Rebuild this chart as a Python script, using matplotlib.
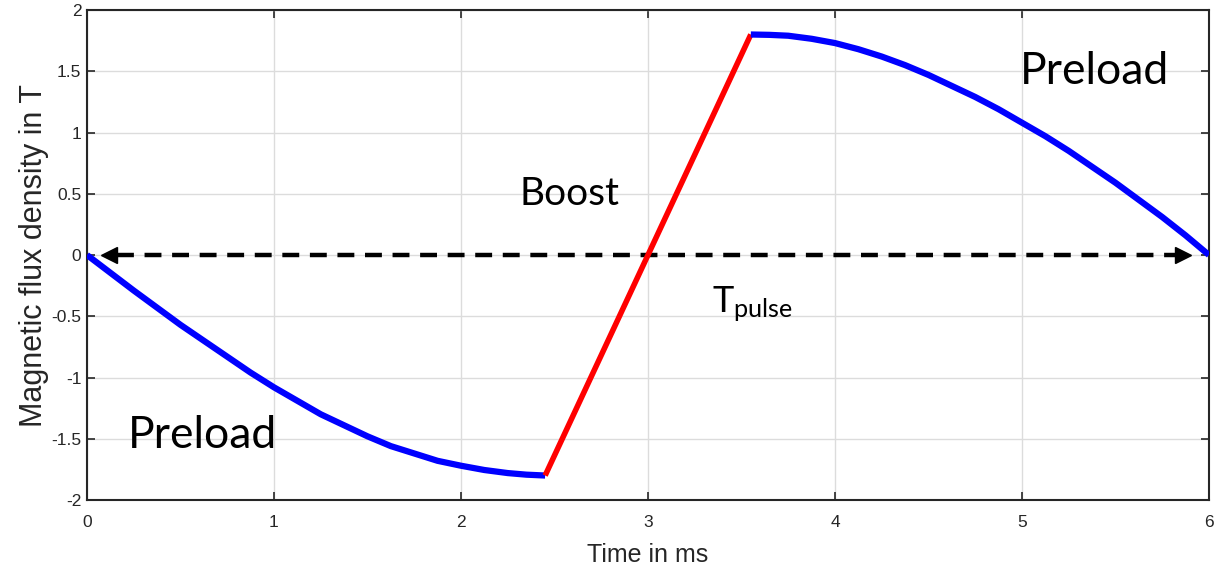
import matplotlib.pyplot as plt

plt.rcParams['font.family'] = ['Liberation Sans', 'DejaVu Sans']
plt.rcParams['mathtext.fontset'] = 'custom'
plt.rcParams['mathtext.rm'] = 'Lato'

# first preload phase
pre1_t = [0, 0.125, 0.25, 0.375, 0.5, 0.625, 0.75, 0.875, 1.0, 1.125, 1.25, 1.375,
          1.5, 1.625, 1.75, 1.875, 2.0, 2.125, 2.25, 2.35, 2.45]
pre1_b = [0, -0.145, -0.29, -0.43, -0.57, -0.70, -0.83, -0.96, -1.08, -1.19, -1.30,
          -1.39, -1.48, -1.56, -1.62, -1.68, -1.72, -1.755, -1.78, -1.793, -1.80]

# boost phase
boost_t = [2.45, 3.55]
boost_b = [-1.80, 1.80]

# second preload phase
pre2_t = [3.55, 3.65, 3.75, 3.875, 4.0, 4.125, 4.25, 4.375, 4.5, 4.625, 4.75, 4.875,
          5.0, 5.125, 5.25, 5.375, 5.5, 5.625, 5.75, 5.875, 6.0]
pre2_b = [1.80, 1.797, 1.79, 1.765, 1.73, 1.68, 1.62, 1.55, 1.47, 1.38, 1.29, 1.19,
          1.08, 0.97, 0.85, 0.72, 0.59, 0.45, 0.31, 0.16, 0]

# T_pulse arrow span
arrow_t = [0.08, 5.9]
arrow_b = [0, 0]

xticks = [0, 1, 2, 3, 4, 5, 6]
yticks = [-2, -1.5, -1, -0.5, 0, 0.5, 1, 1.5, 2]
ytick_labels = ['-2', '-1.5', '-1', '-0.5', '0', '0.5', '1', '1.5', '2']

fig = plt.figure(figsize=(12.27, 5.71), dpi=100)
ax = fig.add_axes([0.0709, 0.1243, 0.9144, 0.8582])

ax.plot(pre1_t, pre1_b, color='#0000ff', lw=4.5, solid_capstyle='butt', zorder=3)
ax.plot(boost_t, boost_b, color='#ff0000', lw=4.0, solid_capstyle='butt', zorder=3)
ax.plot(pre2_t, pre2_b, color='#0000ff', lw=4.5, solid_capstyle='butt', zorder=3)

# dashed double arrow
ax.plot([arrow_t[0] + 0.08, arrow_t[1] - 0.08], arrow_b, color='black', lw=3.2,
        dashes=(3.8, 2.4), zorder=2)
ax.plot(arrow_t[0] + 0.04, arrow_b[0], marker='<', color='black', ms=11, zorder=2)
ax.plot(arrow_t[1] - 0.04, arrow_b[1], marker='>', color='black', ms=11, zorder=2)

lab = dict(family=['Lato', 'DejaVu Sans'], color='black', ha='center', va='center')
ax.text(0.62, -1.47, 'Preload', fontsize=32, **lab)
ax.text(5.39, 1.50, 'Preload', fontsize=32, **lab)
ax.text(2.58, 0.50, 'Boost', fontsize=28, **lab)
ax.text(3.56, -0.40, r'$\mathrm{T_{pulse}}$', fontsize=26, **lab)

ax.set_xlim(0, 6)
ax.set_ylim(-2, 2)
ax.set_xticks(xticks)
ax.set_yticks(yticks)
ax.set_yticklabels(ytick_labels)
ax.grid(True, color='#dcdcdc', lw=1)
ax.set_axisbelow(True)
ax.tick_params(direction='in', top=True, right=True, length=6, width=1.2,
               colors='#262626', labelsize=12.5)
ax.tick_params(axis='x', pad=11)
ax.tick_params(axis='y', pad=4)
for s in ax.spines.values():
    s.set_color('#262626')
    s.set_linewidth(1.5)

ax.set_xlabel('Time in ms', fontsize=18, color='#262626', labelpad=9)
ax.set_ylabel('Magnetic flux density in T', fontsize=22, color='#262626', labelpad=2)

fig.savefig('out.png', dpi=100)
